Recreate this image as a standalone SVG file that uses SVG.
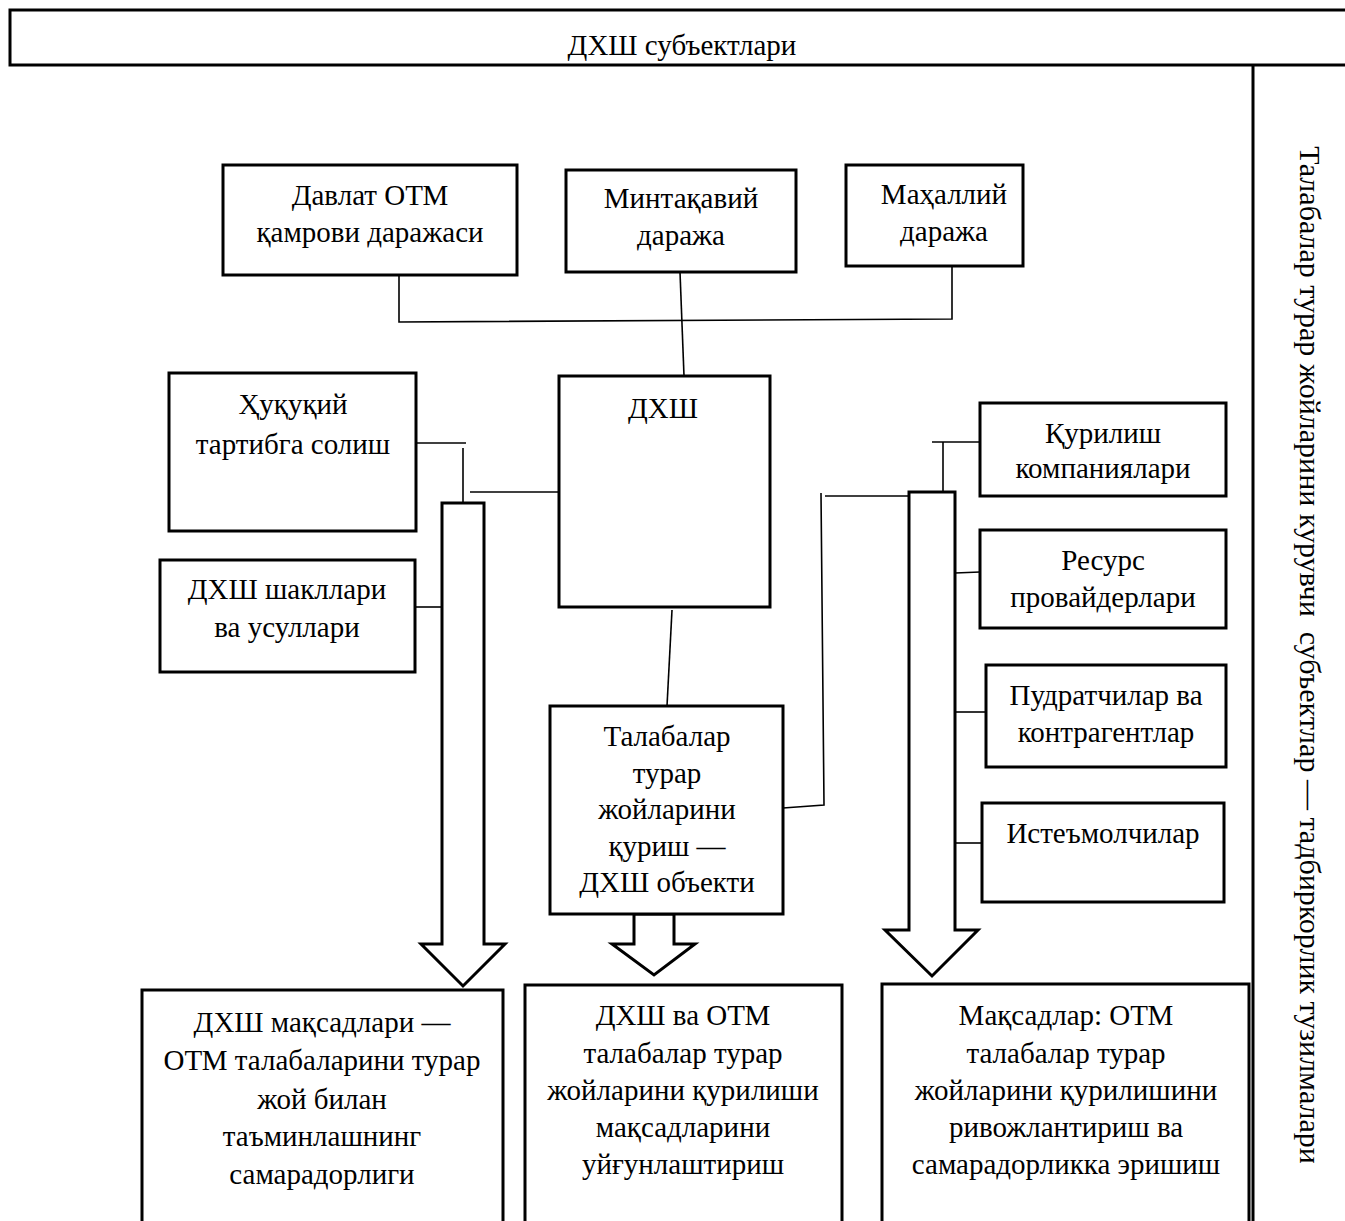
<svg xmlns="http://www.w3.org/2000/svg" width="1345" height="1221" viewBox="0 0 1345 1221">
<style>
.box{fill:#fff;stroke:#000;stroke-width:3}
.ln{fill:none;stroke:#000;stroke-width:1.6}
.arr{fill:#fff;stroke:#000;stroke-width:3;stroke-linejoin:miter}
text{font-family:"Liberation Serif","Times New Roman",serif;font-size:29px;fill:#000;text-anchor:middle}
</style>
<rect width="1345" height="1221" fill="#fff"/>
<g id="header">
<rect class="box" x="10" y="10" width="1345" height="55"/>
<text x="682" y="55">ДХШ субъектлари</text>
</g>
<g id="side-panel">
<line x1="1253" y1="65" x2="1253" y2="1221" stroke="#000" stroke-width="3"/>
<text transform="translate(1300,655) rotate(90)" style="font-size:30px" xml:space="preserve">Талабалар турар жойларини курувчи  субъектлар — тадбиркорлик тузилмалари</text>
</g>
<g id="connectors">
<polyline class="ln" points="399,276 399,322 952,319 952,265"/>
<line class="ln" x1="680" y1="272" x2="684" y2="376"/>
<line class="ln" x1="410" y1="443" x2="466" y2="443"/>
<line class="ln" x1="463" y1="448" x2="463" y2="503"/>
<line class="ln" x1="470" y1="492" x2="559" y2="492"/>
<line class="ln" x1="415" y1="607" x2="443" y2="607"/>
<line class="ln" x1="672" y1="610" x2="667" y2="706"/>
<line class="ln" x1="932" y1="442" x2="980" y2="442"/>
<line class="ln" x1="943" y1="442" x2="943" y2="492"/>
<polyline class="ln" points="821,493 824,805 783,808"/>
<line class="ln" x1="825" y1="496" x2="909" y2="496"/>
<line class="ln" x1="955" y1="573" x2="980" y2="572"/>
<line class="ln" x1="955" y1="712" x2="986" y2="712"/>
<line class="ln" x1="955" y1="843" x2="982" y2="843"/>
</g>
<g id="arrows">
<polygon class="arr" points="442,503 484,503 484,944 505,944 463,986 421,944 442,944"/>
<polygon class="arr" points="634,914 674,914 674,944 695,944 654,975 612,944 634,944"/>
<polygon class="arr" points="909,492 955,492 955,930 978,930 932,976 885,930 909,930"/>
</g>
<g id="node-davlat">
<rect class="box" x="223" y="165" width="294" height="110"/>
<text x="370" y="205">Давлат ОТМ</text>
<text x="370" y="242">қамрови даражаси</text>
</g>
<g id="node-mintaqaviy">
<rect class="box" x="566" y="170" width="230" height="102"/>
<text x="681" y="208">Минтақавий</text>
<text x="681" y="245">даража</text>
</g>
<g id="node-mahalliy">
<rect class="box" x="846" y="165" width="177" height="101"/>
<text x="944" y="204">Маҳаллий</text>
<text x="944" y="241">даража</text>
</g>
<g id="node-dxsh">
<rect class="box" x="559" y="376" width="211" height="231"/>
<text x="663" y="418">ДХШ</text>
</g>
<g id="node-huquqiy">
<rect class="box" x="169" y="373" width="247" height="158"/>
<text x="293" y="414">Ҳуқуқий</text>
<text x="293" y="454">тартибга солиш</text>
</g>
<g id="node-shakllar">
<rect class="box" x="160" y="560" width="255" height="112"/>
<text x="287" y="599">ДХШ шакллари</text>
<text x="287" y="637">ва усуллари</text>
</g>
<g id="node-talabalar">
<rect class="box" x="550" y="706" width="233" height="208"/>
<text x="667" y="746">Талабалар</text>
<text x="667" y="783">турар</text>
<text x="667" y="819">жойларини</text>
<text x="667" y="856">қуриш —</text>
<text x="667" y="892">ДХШ объекти</text>
</g>
<g id="node-qurilish">
<rect class="box" x="980" y="403" width="246" height="93"/>
<text x="1103" y="443">Қурилиш</text>
<text x="1103" y="478">компаниялари</text>
</g>
<g id="node-resurs">
<rect class="box" x="980" y="530" width="246" height="98"/>
<text x="1103" y="570">Ресурс</text>
<text x="1103" y="607">провайдерлари</text>
</g>
<g id="node-pudratchilar">
<rect class="box" x="986" y="665" width="240" height="102"/>
<text x="1106" y="705">Пудратчилар ва</text>
<text x="1106" y="742">контрагентлар</text>
</g>
<g id="node-isteomolchilar">
<rect class="box" x="982" y="803" width="242" height="99"/>
<text x="1103" y="843">Истеъмолчилар</text>
</g>
<g id="node-goal1">
<path class="box" d="M142,1225 V990 H503 V1225"/>
<text x="322" y="1032">ДХШ мақсадлари —</text>
<text x="322" y="1070">ОТМ талабаларини турар</text>
<text x="322" y="1109">жой билан</text>
<text x="322" y="1146">таъминлашнинг</text>
<text x="322" y="1184">самарадорлиги</text>
</g>
<g id="node-goal2">
<path class="box" d="M525,1225 V985 H842 V1225"/>
<text x="683" y="1025">ДХШ ва ОТМ</text>
<text x="683" y="1063">талабалар турар</text>
<text x="683" y="1100">жойларини қурилиши</text>
<text x="683" y="1137">мақсадларини</text>
<text x="683" y="1174">уйғунлаштириш</text>
</g>
<g id="node-goal3">
<path class="box" d="M882,1225 V984 H1249 V1225"/>
<text x="1066" y="1025">Мақсадлар: ОТМ</text>
<text x="1066" y="1063">талабалар турар</text>
<text x="1066" y="1100">жойларини қурилишини</text>
<text x="1066" y="1137">ривожлантириш ва</text>
<text x="1066" y="1174">самарадорликка эришиш</text>
</g>
</svg>
